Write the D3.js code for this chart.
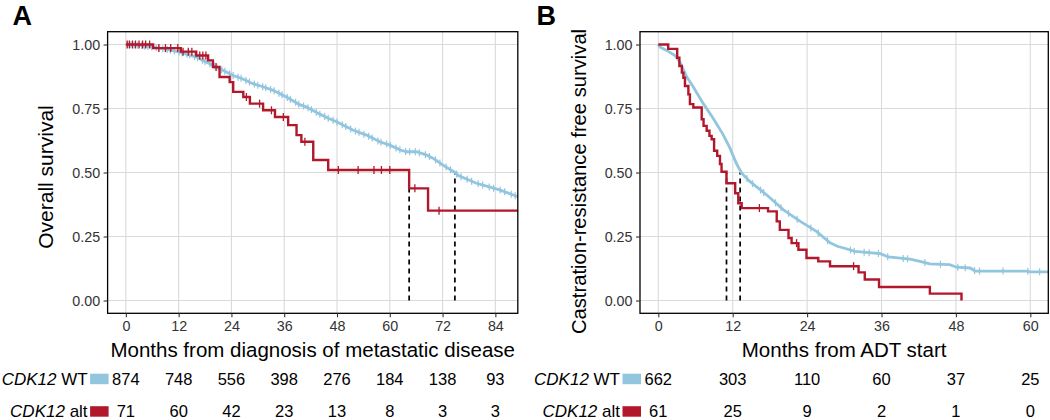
<!DOCTYPE html>
<html><head><meta charset="utf-8">
<script src="https://cdn.jsdelivr.net/npm/d3@7"></script>
<style>
body{margin:0;background:#fff;}
svg{display:block;font-family:"Liberation Sans",Arial,Helvetica,sans-serif;}
</style>
</head><body>
<svg id="chart" width="1050" height="420"></svg>
<script>
// ---------------- DATA ----------------
const osTicks = [0, 12, 24, 36, 48, 60, 72, 84];
const crpcTicks = [0, 12, 24, 36, 48, 60];
const survTicks = [0, 0.25, 0.5, 0.75, 1];
const survTickLabels = ["0.00", "0.25", "0.50", "0.75", "1.00"];

const groupNames = ["WT", "alt"];
const geneName = "CDK12";

// Panel A: overall survival, CDK12 WT (months, survival)
const osWT = [[0,1.0],[3,0.997],[6.2,0.990],[9,0.982],[12.2,0.970],[16.0,0.951],[17.5,0.938],[19.1,0.925],[21.4,0.905],[24.4,0.879],[26.5,0.866],[28.9,0.847],[31,0.836],[33.5,0.821],[36.5,0.795],[39.5,0.765],[41.1,0.756],[44.1,0.728],[46,0.712],[47.9,0.698],[51.7,0.665],[54.7,0.646],[57.7,0.620],[60.0,0.607],[62.4,0.588],[63.8,0.581],[66.1,0.581],[68.4,0.568],[69.9,0.555],[72.1,0.529],[74.8,0.500],[75.6,0.488],[79.7,0.458],[85.0,0.432],[88.1,0.412],[89.1,0.405]];
const osWTCensor = [0.4,1.1,1.9,2.7,3.6,4.2,5.0,5.9,6.9,7.5,8.4,9.4,10.1,11.0,12.1,12.8,13.9,14.5,15.6,16.3,17.4,18.0,19.1,20.1,20.7,21.8,22.5,23.6,24.4,25.5,26.2,27.3,28.1,29.2,30.0,31.1,31.8,32.9,33.7,34.8,35.5,36.7,37.4,38.6,39.3,40.4,41.4,42.2,43.3,44.1,45.2,46.0,47.1,48.0,49.2,50.0,51.1,52.2,53.0,54.1,55.2,56.0,57.3,58.0,59.3,60.1,61.4,62.3,63.6,64.5,65.8,66.7,68.1,69.0,70.4,71.4,72.8,73.8,75.2,76.2,77.6,78.6,80.1,81.1,82.6,83.6,85.1,86.1,87.6,88.5];
// Panel A: overall survival, CDK12 alt
const osAlt = [[0,1.0],[6.2,0.986],[12.5,0.972],[16.0,0.957],[18.7,0.938],[19.8,0.912],[21.3,0.873],[23.6,0.853],[24.4,0.815],[26.7,0.795],[28.2,0.769],[31.2,0.743],[33.9,0.717],[36.9,0.685],[38.8,0.646],[39.9,0.620],[42.6,0.549],[46.0,0.510],[64.4,0.438],[68.7,0.351],[89.1,0.351]];
const osAltCensor = [0.3,0.8,1.5,2.2,3.0,3.8,4.5,5.4,7.5,9.0,10.2,11.8,13.0,14.2,15.0,16.8,17.5,18.2,20.5,27.4,30.4,33.1,35.8,40.7,48.3,52.8,56.4,58.1,60.0,65.7,71.2];

// Panel B: castration-resistance free survival, CDK12 WT
const crpcWT = [[0,1.0],[0.3,0.990],[1.35,0.977],[2.7,0.957],[3.5,0.931],[4.6,0.873],[5.65,0.834],[7.26,0.769],[8.87,0.711],[10.5,0.646],[11.56,0.595],[12.6,0.535],[13.45,0.497],[14.8,0.464],[17.5,0.412],[20.2,0.354],[22.9,0.309],[25.5,0.270],[27.7,0.225],[29.0,0.211],[29.9,0.205],[31.7,0.192],[35.8,0.183],[37.1,0.170],[40.6,0.162],[42.2,0.153],[43.8,0.143],[47.0,0.140],[48.1,0.130],[50.3,0.127],[51.1,0.115],[59.4,0.115],[60,0.112],[62.9,0.112]];
const crpcWTCensor = [14.3,15.2,16.5,17.0,18.9,19.8,21.0,22.4,24.6,25.8,27.3,31.0,31.6,33.2,34.0,35.5,37.0,39.5,40.2,43.0,45.5,48.3,49.5,51.0,51.8,55.6,59.6,61.5];
// Panel B: castration-resistance free survival, CDK12 alt
const crpcAlt = [[0,1.0],[1.6,0.983],[3.05,0.948],[3.4,0.916],[3.8,0.890],[4.05,0.870],[4.3,0.838],[4.85,0.805],[5.1,0.767],[5.65,0.754],[7.0,0.708],[7.3,0.682],[7.8,0.663],[8.25,0.643],[8.6,0.630],[9.0,0.585],[9.5,0.565],[9.95,0.533],[10.2,0.503],[11.0,0.458],[12.4,0.419],[12.9,0.380],[13.45,0.361],[17.7,0.348],[19.1,0.309],[19.6,0.276],[21.0,0.244],[21.5,0.224],[22.6,0.198],[23.9,0.166],[25.8,0.153],[27.7,0.134],[32.3,0.110],[33.3,0.082],[35.6,0.053],[43.8,0.027],[48.9,0.0]];
const crpcAltCensor = [16.3,22.3,31.5];

// medians (months)
const osMedians = [74.8, 64.4];
const crpcMedians = [13.2, 11.0];

// numbers at risk
const osRiskWT = [874, 748, 556, 398, 276, 184, 138, 93];
const osRiskAlt = [71, 60, 42, 23, 13, 8, 3, 3];
const crpcRiskWT = [662, 303, 110, 60, 37, 25];
const crpcRiskAlt = [61, 25, 9, 2, 1, 0];

// ---------------- DRAW ----------------
const colWT = "#92C5DE", colAlt = "#B2182B";
const svg = d3.select("#chart");
svg.append("rect").attr("width",1050).attr("height",420).attr("fill","#fff");

const plotTop = 31.7, plotBottom = 313.3;
const y = d3.scaleLinear().domain([-0.05, 1.05]).range([plotBottom, plotTop]);

function interpLinear(pts, t){
  for (let i=1;i<pts.length;i++){
    if (t <= pts[i][0]) {
      const [t0,s0]=pts[i-1],[t1,s1]=pts[i];
      return s0 + (s1-s0)*(t-t0)/(t1-t0);
    }
  }
  return pts[pts.length-1][1];
}
function interpStep(pts, t){
  let s = pts[0][1];
  for (const p of pts){ if (p[0] <= t) s = p[1]; }
  return s;
}

function drawPanel(cfg){
  const x = d3.scaleLinear().domain(cfg.xDomain).range([cfg.left, cfg.right]);
  const g = svg.append("g");
  // grid
  g.selectAll(".gx").data(cfg.xTicks).join("line")
    .attr("x1",d=>x(d)).attr("x2",d=>x(d)).attr("y1",plotTop).attr("y2",plotBottom)
    .attr("stroke","#DADADA").attr("stroke-width",1.1);
  g.selectAll(".gy").data(survTicks).join("line")
    .attr("x1",cfg.left).attr("x2",cfg.right).attr("y1",d=>y(d)).attr("y2",d=>y(d))
    .attr("stroke","#DADADA").attr("stroke-width",1.1);

  // median lines
  g.selectAll(".med").data(cfg.medians).join("line")
    .attr("x1",d=>x(d)).attr("x2",d=>x(d)).attr("y1",y(0)).attr("y2",y(0.5))
    .attr("stroke","#000").attr("stroke-width",1.7).attr("stroke-dasharray","5,4");

  // WT curve
  g.append("path").datum(cfg.wt)
    .attr("d", d3.line().x(d=>x(d[0])).y(d=>y(d[1])).curve(d3.curveLinear))
    .attr("fill","none").attr("stroke",colWT).attr("stroke-width",2.8);
  g.selectAll(".cw").data(cfg.wtCensor).join("line")
    .attr("x1",d=>x(d)).attr("x2",d=>x(d))
    .attr("y1",d=>y(interpLinear(cfg.wt,d))-3.5).attr("y2",d=>y(interpLinear(cfg.wt,d))+3.5)
    .attr("stroke",colWT).attr("stroke-width",1.2);

  // alt curve
  g.append("path").datum(cfg.alt)
    .attr("d", d3.line().x(d=>x(d[0])).y(d=>y(d[1])).curve(d3.curveStepAfter))
    .attr("fill","none").attr("stroke",colAlt).attr("stroke-width",2.4);
  g.selectAll(".ca").data(cfg.altCensor).join("line")
    .attr("x1",d=>x(d)).attr("x2",d=>x(d))
    .attr("y1",d=>y(interpStep(cfg.alt,d))-4).attr("y2",d=>y(interpStep(cfg.alt,d))+4)
    .attr("stroke",colAlt).attr("stroke-width",1.3);

  // border
  g.append("rect").attr("x",cfg.left).attr("y",plotTop)
    .attr("width",cfg.right-cfg.left).attr("height",plotBottom-plotTop)
    .attr("fill","none").attr("stroke","#000").attr("stroke-width",1.3);

  // axes
  const ax = g.append("g").attr("transform",`translate(0,${plotBottom})`)
    .call(d3.axisBottom(x).tickValues(cfg.xTicks).tickSize(4).tickPadding(4));
  const ay = g.append("g").attr("transform",`translate(${cfg.left},0)`)
    .call(d3.axisLeft(y).tickValues(survTicks).tickFormat((d,i)=>survTickLabels[i]).tickSize(4).tickPadding(3.5));
  [ax, ay].forEach(a=>{
    a.select(".domain").remove();
    a.selectAll(".tick line").attr("stroke","#333").attr("stroke-width",1.1);
    a.selectAll(".tick text").attr("fill","#333").style("font-size","14.3px")
      .style("font-family",'"Liberation Sans",Arial,sans-serif');
  });

  // axis titles
  g.append("text").attr("x",(cfg.left+cfg.right)/2).attr("y",356.5)
    .attr("text-anchor","middle").style("font-size","20.5px").attr("fill","#000")
    .text(cfg.xTitle);
  g.append("text").attr("transform",`translate(${cfg.yTitleX},${cfg.yTitleY}) rotate(-90)`)
    .attr("text-anchor","middle").style("font-size",cfg.yTitleSize).attr("fill","#000")
    .text(cfg.yTitle);

  // panel letter
  g.append("text").attr("x",cfg.letterX).attr("y",24.5)
    .style("font-size","27px").style("font-weight","bold").attr("fill","#000")
    .text(cfg.letter);

  // risk table
  const rows = [
    {name: groupNames[0], vals: cfg.riskWT, col: colWT, base: 384.5},
    {name: groupNames[1], vals: cfg.riskAlt, col: colAlt, base: 417}
  ];
  rows.forEach(r=>{
    const t = g.append("text").attr("x",cfg.left-20).attr("y",r.base)
      .attr("text-anchor","end").style("font-size","17px").attr("fill","#000");
    t.append("tspan").style("font-style","italic").text(geneName);
    t.append("tspan").text("\u00A0" + r.name);
    g.append("rect").attr("x",cfg.left-17.5).attr("y",r.base-10.8)
      .attr("width",18.5).attr("height",10.5).attr("fill",r.col);
    g.selectAll(null).data(r.vals).join("text")
      .attr("x",(d,i)=>x(cfg.xTicks[i])).attr("y",r.base)
      .attr("text-anchor","middle").style("font-size","16.5px").attr("fill","#000")
      .text(d=>d);
  });
}

drawPanel({
  left:107.6, right:517.8, xDomain:[-4.15, 89.1], xTicks:osTicks,
  wt:osWT, wtCensor:osWTCensor, alt:osAlt, altCensor:osAltCensor,
  medians:osMedians, riskWT:osRiskWT, riskAlt:osRiskAlt,
  xTitle:"Months from diagnosis of metastatic disease",
  yTitle:"Overall survival", yTitleX:53.3, yTitleY:177, yTitleSize:"21px",
  letter:"A", letterX:12.5
});
drawPanel({
  left:640, right:1048.3, xDomain:[-2.95, 62.9], xTicks:crpcTicks,
  wt:crpcWT, wtCensor:crpcWTCensor, alt:crpcAlt, altCensor:crpcAltCensor,
  medians:crpcMedians, riskWT:crpcRiskWT, riskAlt:crpcRiskAlt,
  xTitle:"Months from ADT start",
  yTitle:"Castration-resistance free survival", yTitleX:586, yTitleY:181.5, yTitleSize:"20.2px",
  letter:"B", letterX:536.5
});
</script>
</body></html>
